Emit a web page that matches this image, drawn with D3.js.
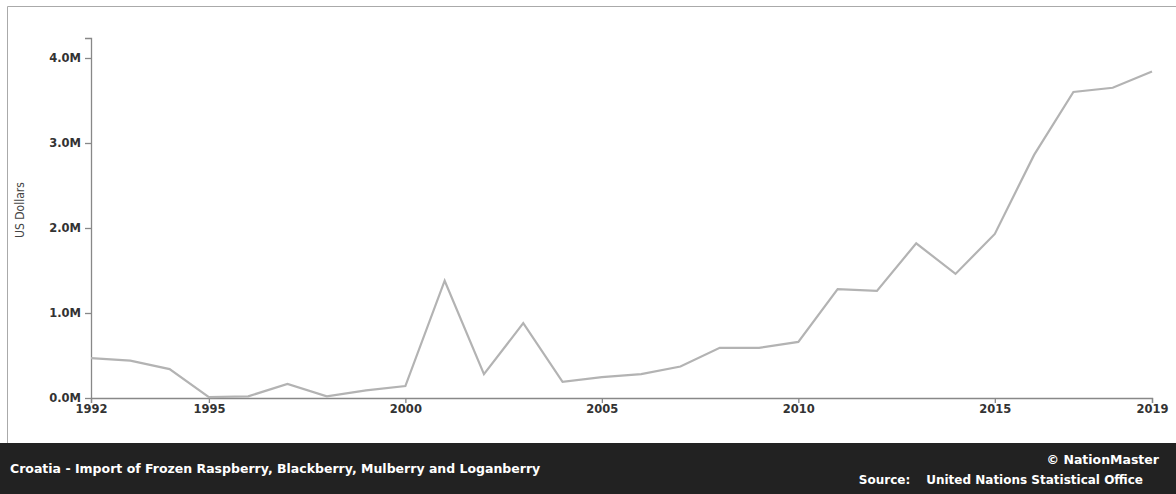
<!DOCTYPE html>
<html>
<head>
<meta charset="utf-8">
<script src="https://cdn.jsdelivr.net/npm/d3@7.9.0/dist/d3.min.js"></script>
<style>
  html, body { margin: 0; padding: 0; background: #fff; }
  body { width: 1176px; height: 494px; overflow: hidden; font-family: "DejaVu Sans", sans-serif; }
  .tick text { font-family: "DejaVu Sans", sans-serif; font-weight: 700; font-size: 11.5px; fill: #333; }
</style>
</head>
<body>
<div id="chart"></div>
<script>
// --- Data ---
const years = [1992, 1993, 1994, 1995, 1996, 1997, 1998, 1999, 2000, 2001,
  2002, 2003, 2004, 2005, 2006, 2007, 2008, 2009, 2010, 2011,
  2012, 2013, 2014, 2015, 2016, 2017, 2018, 2019];
const values = [0.47, 0.44, 0.34, 0.01, 0.02, 0.165, 0.02, 0.09, 0.14, 1.38,
  0.28, 0.88, 0.19, 0.245, 0.28, 0.37, 0.59, 0.59, 0.66, 1.28,
  1.26, 1.82, 1.46, 1.93, 2.86, 3.6, 3.65, 3.84].map(v => v * 1e6);
const xTicks = [1992, 1995, 2000, 2005, 2010, 2015, 2019];
const yTicks = [0, 1e6, 2e6, 3e6, 4e6];

const title = 'Croatia - Import of Frozen Raspberry, Blackberry, Mulberry and Loganberry';
const yLabel = 'US Dollars';

const width = 1176;
const height = 494;
const margin = { top: 38, right: 24, bottom: 96, left: 91 };

const svg = d3.select('#chart')
  .append('svg')
  .attr('width', width)
  .attr('height', height);

// frame around the plot area
svg.append('path')
  .attr('d', `M7.5,${443} V6.5 H${width}`)
  .attr('fill', 'none')
  .attr('stroke', '#aaa')
  .attr('stroke-width', 1);

const xScale = d3.scaleLinear()
  .domain([1992, 2019])
  .range([margin.left, width - margin.right]);

const yScale = d3.scaleLinear()
  .domain([0, 4e6])
  .range([398, 58]);

// axes
const xAxis = d3.axisBottom(xScale)
  .tickValues(xTicks)
  .tickFormat(d3.format('d'))
  .tickSize(5)
  .tickPadding(2);

const yAxis = d3.axisLeft(yScale)
  .tickValues(yTicks)
  .tickFormat(d => (d / 1e6).toFixed(1) + 'M')
  .tickSize(6)
  .tickPadding(4);

svg.append('g')
  .attr('transform', `translate(0, ${yScale(0)})`)
  .call(xAxis);

// y axis extends above 4.0M with a small cap
const gy = svg.append('g')
  .attr('transform', `translate(${margin.left}, 0)`)
  .call(yAxis);
gy.select('.domain').attr('d', `M-6,${margin.top + 0.5}H0.5V${yScale(0)}`);

svg.selectAll('.domain, .tick line').attr('stroke', '#888').attr('stroke-width', 1.3);

// y label
svg.append('text')
  .attr('transform', `translate(24, 210) rotate(-90)`)
  .attr('text-anchor', 'middle')
  .attr('font-family', '"Liberation Sans Narrow", "DejaVu Sans Condensed", sans-serif')
  .attr('font-size', 12)
  .attr('fill', '#444')
  .text(yLabel);

// line
const line = d3.line()
  .x((d, i) => xScale(years[i]))
  .y(d => yScale(d));

svg.append('path')
  .datum(values)
  .attr('d', line)
  .attr('fill', 'none')
  .attr('stroke', '#b3b3b3')
  .attr('stroke-width', 2.2);

// footer band
const footerTop = 443;
svg.append('rect')
  .attr('x', 0)
  .attr('y', footerTop)
  .attr('width', width)
  .attr('height', height - footerTop)
  .attr('fill', '#222');

svg.append('text')
  .attr('x', 10)
  .attr('y', 473)
  .attr('fill', '#fff')
  .attr('font-weight', 700)
  .attr('font-size', 12.5)
  .text(title);

svg.append('text')
  .attr('x', 1159)
  .attr('y', 464)
  .attr('text-anchor', 'end')
  .attr('fill', '#fff')
  .attr('font-weight', 700)
  .attr('font-size', 12.5)
  .text('\u00A9 NationMaster');

const src = svg.append('text')
  .attr('x', 1143)
  .attr('y', 484)
  .attr('text-anchor', 'end')
  .attr('fill', '#fff')
  .attr('font-weight', 700)
  .attr('font-size', 12);
src.append('tspan').text('Source:');
src.append('tspan').attr('dx', 16).text('United Nations Statistical Office');
</script>
</body>
</html>
